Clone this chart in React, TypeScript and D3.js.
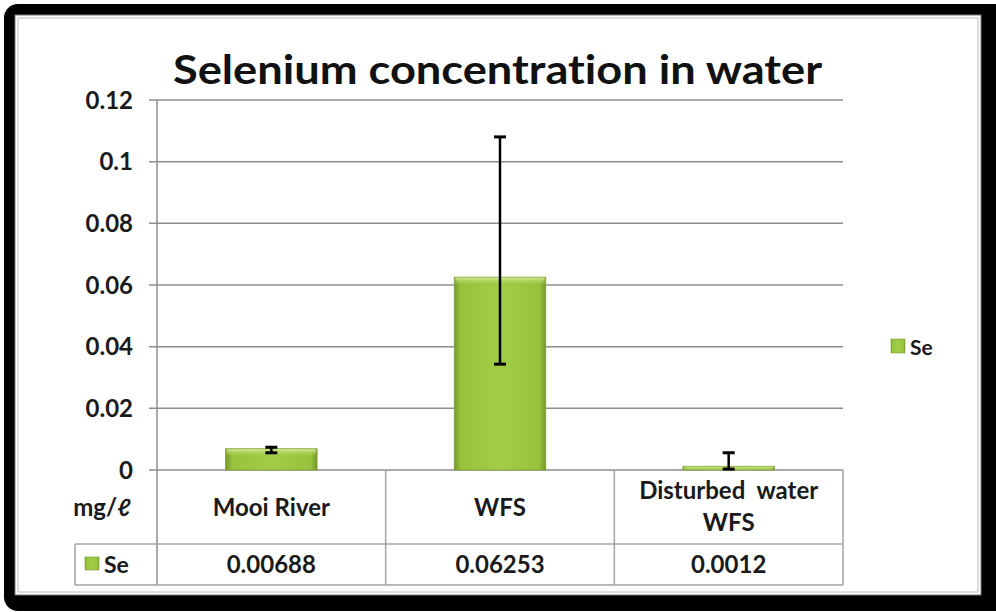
import * as d3 from "d3";

const categories = ["Mooi River", "WFS", "Disturbed water WFS"];
const categoryLines = [["Mooi River"], ["WFS"], ["Disturbed  water", "WFS"]];
const seValues = [0.00688, 0.06253, 0.0012];
const seLabels = ["0.00688", "0.06253", "0.0012"];
const errPlus = [0.0005, 0.0455, 0.0044];
const errMinus = [0.0013, 0.0282, 0.0009];
const yTicks = [0, 0.02, 0.04, 0.06, 0.08, 0.1, 0.12];
const yTickLabels = ["0", "0.02", "0.04", "0.06", "0.08", "0.1", "0.12"];

const FONT = "Lato, 'Open Sans', sans-serif";

export default function App() {
  const width = 996;
  const height = 612;
  const plot = { left: 157, right: 843, top: 100, bottom: 470 };

  const x = d3
    .scaleBand<string>()
    .domain(categories)
    .range([plot.left, plot.right])
    .paddingInner(0.6)
    .paddingOuter(0.3);
  const y = d3.scaleLinear().domain([0, 0.12]).range([plot.bottom, plot.top]);

  const step = x.step();
  const colLeft = (c: string) => (x(c) as number) - (step * 0.6) / 2;
  const colCenter = (c: string) => (x(c) as number) + x.bandwidth() / 2;

  const row1 = 544;
  const row2 = 585;
  const gridColor = "#8e8e8e";
  const tableColor = "#a3a3a3";
  const textColor = "#1a1a1a";

  return (
    <svg
      width={width}
      height={height}
      style={{ position: "absolute", left: 0, top: 0, display: "block", fontVariantLigatures: "none" }}
      fontFamily={FONT}
    >
      <defs>
        <linearGradient id="barH" x1="0" x2="1" y1="0" y2="0">
          <stop offset="0%" stopColor="#76982a" />
          <stop offset="7%" stopColor="#97c23c" />
          <stop offset="50%" stopColor="#a3cd47" />
          <stop offset="93%" stopColor="#97c23c" />
          <stop offset="100%" stopColor="#76982a" />
        </linearGradient>
        <linearGradient id="barTop" x1="0" x2="0" y1="0" y2="1">
          <stop offset="0%" stopColor="#d3ea95" />
          <stop offset="100%" stopColor="#a8d04c" stopOpacity="0" />
        </linearGradient>
      </defs>

      {/* frame */}
      <rect x={0} y={0} width={width} height={height} fill="#fff" />
      <rect x={4} y={4} width={1010} height={607} rx={14} fill="#000" />
      <rect x={15} y={15} width={966} height={580} fill="#fff" stroke="#777" strokeWidth={1} />
      <rect x={18} y={18} width={960} height={574} fill="none" stroke="#bbb" strokeWidth={1} />

      {/* title */}
      <text
        x={(173 + 822) / 2}
        y={84}
        textAnchor="middle"
        fontSize={41}
        fontWeight="bold"
        fill="#111"
        textLength={649}
        lengthAdjust="spacingAndGlyphs"
      >
        Selenium concentration in water
      </text>

      {/* gridlines + y ticks */}
      {yTicks.map((t, i) => (
        <g key={t}>
          <line
            x1={plot.left - 8}
            x2={plot.right}
            y1={y(t)}
            y2={y(t)}
            stroke={gridColor}
            strokeWidth={1.5}
          />
          <text
            x={133}
            y={y(t) + 8.5}
            textAnchor="end"
            fontSize={24}
            fontWeight="bold"
            fill={textColor}
          >
            {yTickLabels[i]}
          </text>
        </g>
      ))}
      <line x1={plot.left} x2={plot.left} y1={plot.top} y2={row2} stroke={gridColor} strokeWidth={1.5} />

      {/* bars */}
      {categories.map((c, i) => {
        const bx = x(c) as number;
        const bw = x.bandwidth();
        const top = y(seValues[i]);
        const h = plot.bottom - top;
        return (
          <g key={c}>
            <rect x={bx} y={top} width={bw} height={h} fill="url(#barH)" stroke="#7e9e34" strokeWidth={0.8} />
            <rect x={bx + 1} y={top + 0.5} width={bw - 2} height={Math.min(7, h)} fill="url(#barTop)" />
          </g>
        );
      })}

      {/* error bars */}
      {categories.map((c, i) => {
        const cx = colCenter(c);
        const hi = y(seValues[i] + errPlus[i]);
        const lo = y(seValues[i] - errMinus[i]);
        return (
          <g key={c} stroke="#000">
            <line x1={cx} x2={cx} y1={hi} y2={lo} strokeWidth={2.5} />
            <line x1={cx - 6} x2={cx + 6} y1={hi} y2={hi} strokeWidth={3} />
            <line x1={cx - 6} x2={cx + 6} y1={lo} y2={lo} strokeWidth={3} />
          </g>
        );
      })}

      {/* data table */}
      {categories.map((c) => (
        <line
          key={c}
          x1={colLeft(c) + step}
          x2={colLeft(c) + step}
          y1={plot.bottom}
          y2={row2}
          stroke={tableColor}
          strokeWidth={1.5}
        />
      ))}
      <line x1={75} x2={plot.right} y1={row1} y2={row1} stroke={tableColor} strokeWidth={1.5} />
      <line x1={75} x2={plot.right} y1={row2} y2={row2} stroke={tableColor} strokeWidth={1.5} />
      <line x1={75} x2={75} y1={row1} y2={row2} stroke={tableColor} strokeWidth={1.5} />

      <text x={131} y={516} textAnchor="end" fontSize={24} fontWeight="bold" fill={textColor}>
        mg/ℓ
      </text>
      {categories.map((c, i) => {
        const lines = categoryLines[i];
        const baseY = lines.length === 1 ? 516 : 499;
        return (
          <text
            key={c}
            textAnchor="middle"
            fontSize={24}
            fontWeight="bold"
            fill={textColor}
            style={{ whiteSpace: "pre" }}
          >
            {lines.map((l, j) => (
              <tspan key={j} x={colCenter(c)} y={baseY + j * 32}>
                {l}
              </tspan>
            ))}
          </text>
        );
      })}

      <rect x={85} y={557} width={14} height={13} fill="url(#barH)" stroke="#7e9e34" strokeWidth={0.6} />
      <text x={104} y={573} fontSize={23} fontWeight="bold" fill={textColor}>
        Se
      </text>
      {categories.map((c, i) => (
        <text
          key={c}
          x={colCenter(c)}
          y={573}
          textAnchor="middle"
          fontSize={24}
          fontWeight="bold"
          fill={textColor}
        >
          {seLabels[i]}
        </text>
      ))}

      {/* legend */}
      <rect x={891} y={339} width={14} height={14} fill="url(#barH)" stroke="#7e9e34" strokeWidth={0.6} />
      <text x={910} y={355} fontSize={21} fontWeight="bold" fill={textColor}>
        Se
      </text>
    </svg>
  );
}
